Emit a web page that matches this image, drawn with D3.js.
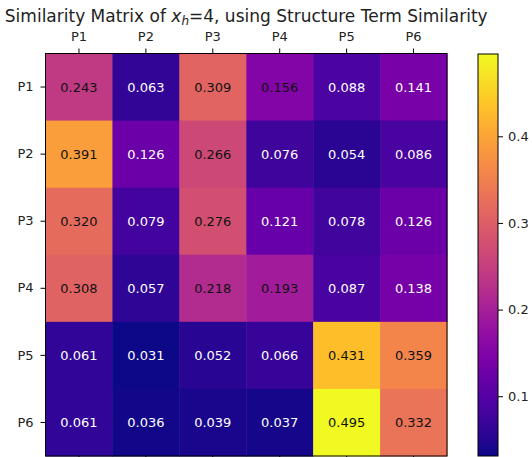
<!DOCTYPE html>
<html><head><meta charset="utf-8">
<script src="https://cdn.jsdelivr.net/npm/d3@7"></script>
<style>body{margin:0;background:#fff}svg{display:block}text{font-family:"DejaVu Sans",sans-serif}</style>
</head><body><svg id="c" width="532" height="457"></svg>
<script>
const rowLabels = ["P1","P2","P3","P4","P5","P6"];
const colLabels = ["P1","P2","P3","P4","P5","P6"];
const row1 = [0.243,0.063,0.309,0.156,0.088,0.141];
const row2 = [0.391,0.126,0.266,0.076,0.054,0.086];
const row3 = [0.320,0.079,0.276,0.121,0.078,0.126];
const row4 = [0.308,0.057,0.218,0.193,0.087,0.138];
const row5 = [0.061,0.031,0.052,0.066,0.431,0.359];
const row6 = [0.061,0.036,0.039,0.037,0.495,0.332];
const cbTicks = [0.1,0.2,0.3,0.4];
const matrix = [row1,row2,row3,row4,row5,row6];

const svg = d3.select("#c");
const L=45.5, R=447, T=53.5, B=456;
const x = d3.scaleBand().domain(colLabels).range([L,R]);
const y = d3.scaleBand().domain(rowLabels).range([T,B]);
const all = matrix.flat();
const vmin = d3.min(all), vmax = d3.max(all);
const color = d3.scaleSequential(d3.interpolatePlasma).domain([vmin,vmax]);

const cells = [];
matrix.forEach((r,i)=>r.forEach((v,j)=>cells.push({r:rowLabels[i],c:colLabels[j],v})));
svg.append("g").selectAll("rect").data(cells).join("rect")
  .attr("x",d=>x(d.c)).attr("y",d=>y(d.r))
  .attr("width",x.bandwidth()+0.5).attr("height",y.bandwidth()+0.5)
  .attr("fill",d=>color(d.v));
svg.append("g").selectAll("text").data(cells).join("text")
  .attr("x",d=>x(d.c)+x.bandwidth()/2).attr("y",d=>y(d.r)+y.bandwidth()/2)
  .attr("text-anchor","middle").attr("dominant-baseline","central")
  .attr("font-size",13)
  .attr("fill",d=>d.v>0.15?"#111":"#fff")
  .text(d=>d.v.toFixed(3));
svg.append("rect").attr("x",L).attr("y",T).attr("width",R-L).attr("height",B-T)
  .attr("fill","none").attr("stroke","#000").attr("stroke-width",1);

function styleAxis(g){
  g.select(".domain").remove();
  g.selectAll("text").attr("font-size",13).attr("fill","#222").style("font-family","DejaVu Sans");
  g.selectAll("line").attr("stroke","#000");
}
svg.append("g").attr("transform",`translate(0,${T})`)
  .call(d3.axisTop(x).tickSize(5).tickPadding(7.5)).call(styleAxis);
svg.append("g").attr("transform",`translate(0,${B})`)
  .call(d3.axisBottom(x).tickSize(5).tickFormat("")).call(styleAxis);
svg.append("g").attr("transform",`translate(${L},0)`)
  .call(d3.axisLeft(y).tickSize(5).tickPadding(7)).call(styleAxis);

// colorbar
const cbL=478, cbR=498;
const cy = d3.scaleLinear().domain([vmin,vmax]).range([B,T+0.5]);
const defs = svg.append("defs");
const grad = defs.append("linearGradient").attr("id","g").attr("x1",0).attr("y1",1).attr("x2",0).attr("y2",0);
d3.range(0,1.0001,0.05).forEach(t=>grad.append("stop").attr("offset",t).attr("stop-color",d3.interpolatePlasma(t)));
svg.append("rect").attr("x",cbL).attr("y",T+0.5).attr("width",cbR-cbL).attr("height",B-T-0.5)
  .attr("fill","url(#g)").attr("stroke","#000").attr("stroke-width",1);
svg.append("g").attr("transform",`translate(${cbR},0)`)
  .call(d3.axisRight(cy).tickValues(cbTicks).tickSize(5).tickPadding(5).tickFormat(d3.format(".1f"))).call(styleAxis);

// title
const title = svg.append("text").attr("x",(L+R)/2).attr("y",22).attr("text-anchor","middle")
  .attr("font-size",17).attr("fill","#222");
title.append("tspan").text("Similarity Matrix of ");
title.append("tspan").attr("font-style","italic").text("x");
title.append("tspan").attr("font-style","italic").attr("font-size",12).attr("dy",3).text("h");
title.append("tspan").attr("dy",-3).text("=4, using Structure Term Similarity");
</script></body></html>
